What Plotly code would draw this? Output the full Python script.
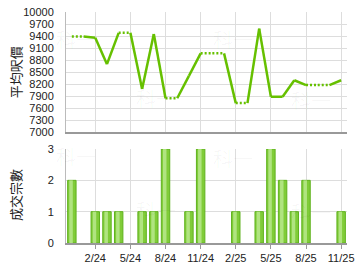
import plotly.graph_objects as go

months = ["12/23", "1/24", "2/24", "3/24", "4/24", "5/24", "6/24", "7/24", "8/24", "9/24",
          "10/24", "11/24", "12/24", "1/25", "2/25", "3/25", "4/25", "5/25", "6/25", "7/25",
          "8/25", "9/25", "10/25", "11/25"]
avg_price = [9390, None, 9360, 8700, 9480, None, 8080, 9450, 7850, None,
             8410, 8970, None, None, 7730, None, 9585, 7890, 7890, 8300,
             8180, None, None, 8300]
counts = [2, 0, 1, 1, 1, 0, 1, 1, 3, 0,
          1, 3, 0, 0, 1, 0, 1, 3, 2, 1,
          2, 0, 0, 1]
tick_labels = ["2/24", "5/24", "8/24", "11/24", "2/25", "5/25", "8/25", "11/25"]
price_ticks = [7000, 7300, 7600, 7900, 8200, 8500, 8800, 9100, 9400, 9700, 10000]
count_ticks = [0, 1, 2, 3]

LINE = "#66c000"
FONT = "Liberation Sans, Arial, sans-serif"
CJK = "Noto Sans CJK TC, Noto Sans CJK SC, sans-serif"

# carry forward values for months without transactions
filled = []
last = None
for v in avg_price:
    if v is not None:
        last = v
    filled.append(last)

sx, sy, dx, dy = [], [], [], []
for i in range(1, len(months)):
    seg_x = [months[i - 1], months[i], None]
    seg_y = [filled[i - 1], filled[i], None]
    if avg_price[i] is None:
        dx += seg_x
        dy += seg_y
    else:
        sx += seg_x
        sy += seg_y

bar_vals = [c if c > 0 else None for c in counts]

fig = go.Figure()
fig.add_trace(go.Scatter(x=dx, y=dy, mode="lines", xaxis="x", yaxis="y",
                         line=dict(color=LINE, width=2.5, dash="2px,2px"),
                         connectgaps=False, hoverinfo="skip"))
fig.add_trace(go.Scatter(x=sx, y=sy, mode="lines", xaxis="x", yaxis="y",
                         line=dict(color=LINE, width=2.5),
                         connectgaps=False, hoverinfo="skip"))
fig.add_trace(go.Bar(x=months, y=bar_vals, xaxis="x2", yaxis="y2", width=0.72,
                     marker=dict(color="#80cc38", line=dict(color="#5fb21e", width=1))))
fig.add_trace(go.Bar(x=months, y=bar_vals, xaxis="x2", yaxis="y2", width=0.3, offset=-0.22,
                     marker=dict(color="#b0e480", line=dict(width=0))))

xcommon = dict(type="category", categoryorder="array", categoryarray=months,
               range=[-0.5, len(months) - 0.5], tickvals=tick_labels, ticktext=tick_labels,
               showgrid=True, gridcolor="#dddddd", gridwidth=1,
               showline=True, linecolor="#999999", linewidth=2,
               tickfont=dict(family=FONT, size=11, color="#222222"))

fig.update_layout(
    width=360, height=270,
    margin=dict(l=66, r=6, t=7, b=27),
    paper_bgcolor="white", plot_bgcolor="white",
    showlegend=False, barmode="overlay",
    xaxis=dict(xcommon, domain=[0, 1], anchor="y", showticklabels=False, ticks=""),
    yaxis=dict(domain=[113 / 236, 1], range=[7000, 10000], tickvals=price_ticks,
               tickformat="d",
               showgrid=True, gridcolor="#dddddd", zeroline=False,
               showline=True, linecolor="#bbbbbb", linewidth=1,
               ticks="", ticklabelstandoff=9,
               tickfont=dict(family=FONT, size=11, color="#222222")),
    xaxis2=dict(xcommon, domain=[0, 1], anchor="y2", ticks="outside", ticklen=4,
                tickcolor="#999999"),
    yaxis2=dict(domain=[0, 96 / 236], range=[0, 3], tickvals=count_ticks,
                showgrid=True, gridcolor="#dddddd", zeroline=False,
                showline=True, linecolor="#bbbbbb", linewidth=1,
                ticks="", ticklabelstandoff=9,
                tickfont=dict(family=FONT, size=11, color="#222222")),
)

fig.add_annotation(text="平均呎價", xref="paper", yref="paper", x=-0.18, y=0.7415,
                   textangle=-90, showarrow=False, xanchor="center", yanchor="middle",
                   font=dict(family=CJK, size=13, color="#222222"))
fig.add_annotation(text="成交宗數", xref="paper", yref="paper", x=-0.18, y=0.21,
                   textangle=-90, showarrow=False, xanchor="center", yanchor="middle",
                   font=dict(family=CJK, size=13, color="#222222"))

# faint watermarks
for (px, py) in [(76, 35), (158, 95), (237, 35), (317, 97),
                 (76, 155), (158, 210), (237, 157), (317, 212)]:
    fig.add_annotation(text="科一", xref="paper", yref="paper",
                       x=(px - 66) / 288, y=(243 - py) / 236, showarrow=False,
                       xanchor="center", yanchor="middle",
                       font=dict(family=CJK, size=20, color="rgba(0,0,0,0.035)"))

fig.write_html("out.html")
